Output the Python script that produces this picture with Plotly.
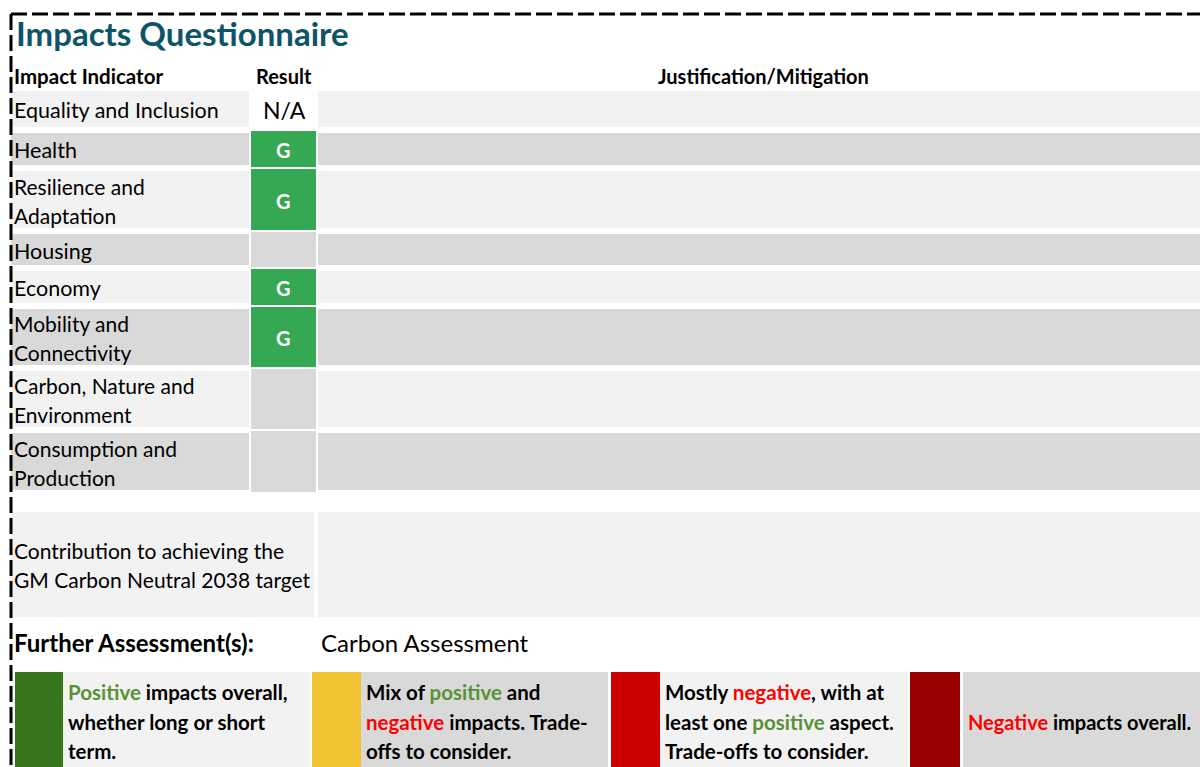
import plotly.graph_objects as go

# ---------------- data ----------------
indicators = ["Equality and Inclusion", "Health", "Resilience and\nAdaptation", "Housing",
              "Economy", "Mobility and\nConnectivity", "Carbon, Nature and\nEnvironment",
              "Consumption and\nProduction"]
results = ["N/A", "G", "G", "", "G", "G", "", ""]
contribution_label = "Contribution to achieving the\nGM Carbon Neutral 2038 target"
further_label = "Further Assessment(s):"
further_value = "Carbon Assessment"
header_labels = ["Impact Indicator", "Result", "Justification/Mitigation"]
title_text = "Impacts Questionnaire"

POS = "#5A9137"
NEG = "#FF0000"
legend_colors = ["#37761E", "#F1C232", "#CC0000", "#990000"]
legend_texts = [
    [f"<span style='color:{POS}'>Positive</span> impacts overall,", "whether long or short", "term."],
    [f"Mix of <span style='color:{POS}'>positive</span> and",
     f"<span style='color:{NEG}'>negative</span> impacts. Trade-", "offs to consider."],
    [f"Mostly <span style='color:{NEG}'>negative</span>, with at",
     f"least one <span style='color:{POS}'>positive</span> aspect.", "Trade-offs to consider."],
    [f"<span style='color:{NEG}'>Negative</span> impacts overall."],
]

# ---------------- layout constants ----------------
W, H = 1200, 767
FONT = "Lato"
LIGHT, GRAY = "#F2F2F2", "#D9D9D9"
GREEN = "#34A853"
row_heights = [36, 32, 57, 31, 32, 56, 56, 57]
ROW_TOP0, GAP = 91, 6
LBL_X0, LBL_X1 = 11, 249
RES_X0, RES_X1 = 251, 316
JUS_X0, JUS_X1 = 318, 1215
LINE_H = 29
BODY = 21
TX = 12

shapes = []
ann = []


def rect(x0, y0, x1, y1, color):
    shapes.append(dict(type="rect", xref="x", yref="y", x0=x0, x1=x1, y0=y0, y1=y1,
                       fillcolor=color, line=dict(width=0), layer="below"))


def text(x, y, s, size=BODY, color="black", bold=False, anchor="left"):
    if bold:
        s = f"<b>{s}</b>"
    ann.append(dict(x=x, y=y, xref="x", yref="y", text=s, showarrow=False,
                    xanchor=anchor, yanchor="middle",
                    font=dict(family=FONT, size=size, color=color)))


# title
text(TX + 2, 33, title_text, size=33, color="#0D5468", bold=True)

# headers
text(TX, 76, header_labels[0], size=20.5, bold=True)
text((RES_X0 + RES_X1) / 2, 76, header_labels[1], size=20, bold=True, anchor="center")
text(763, 76, header_labels[2], size=20, bold=True, anchor="center")

# rows
y = ROW_TOP0
for i, (lab, res, h) in enumerate(zip(indicators, results, row_heights)):
    col = LIGHT if i % 2 == 0 else GRAY
    y0, y1 = y, y + h
    rect(LBL_X0, y0, LBL_X1, y1, col)
    rect(JUS_X0, y0, JUS_X1, y1, col)
    if res == "G":
        rect(RES_X0, y0 - 2, RES_X1, y1 + 2, GREEN)
        text((RES_X0 + RES_X1) / 2, (y0 + y1) / 2 + 1, "G", size=20, color="white",
             bold=True, anchor="center")
    elif res == "":
        rect(RES_X0, y0 - 2, RES_X1, y1 + 2, GRAY)
    else:
        text((RES_X0 + RES_X1) / 2 + 0.5, (y0 + y1) / 2 + 1, res, size=23, anchor="center")
    lines = lab.split("\n")
    cy = (y0 + y1) / 2
    for k, ln in enumerate(lines):
        text(TX, cy + (k - (len(lines) - 1) / 2) * LINE_H + 1, ln,
             size=21.5 if len(lines) == 1 else BODY)
    y = y1 + GAP

# contribution row
rect(LBL_X0, 512, 314, 617, LIGHT)
rect(JUS_X0, 512, JUS_X1, 617, LIGHT)
for k, ln in enumerate(contribution_label.split("\n")):
    text(TX, 550 + k * LINE_H, ln)

# further assessment
text(TX, 642, further_label, size=24, bold=True)
text(319, 642, further_value, size=24)

# legend
blocks = [(15, 63, 310), (312, 361, 608), (611, 660, 908), (910, 960, 1215)]
cell_cols = [LIGHT, GRAY, LIGHT, GRAY]
for (bx0, bx1, tx1), c, cc, lines in zip(blocks, legend_colors, cell_cols, legend_texts):
    rect(bx0, 672, bx1, H + 20, c)
    tx0 = bx1 if c != legend_colors[3] else bx1 + 3
    rect(tx0, 672, tx1, H + 20, cc)
    if len(lines) == 1:
        ys = [722]
    else:
        ys = [692 + k * 29.5 for k in range(len(lines))]
    for ln, yy in zip(lines, ys):
        text(tx0 + 3, yy, ln, size=20.5 if len(lines) > 1 else 20, bold=True)

# dashed border
dash = dict(color="black", width=3, dash="16px,5px")
shapes.append(dict(type="line", xref="x", yref="y", x0=11, y0=14, x1=W + 20, y1=14, line=dash))
shapes.append(dict(type="line", xref="x", yref="y", x0=11, y0=14, x1=11, y1=H + 20, line=dash))

fig = go.Figure()
fig.add_trace(go.Scatter(x=[0, W], y=[0, H], mode="markers",
                         marker=dict(opacity=0), hoverinfo="skip", showlegend=False))
fig.update_layout(
    width=W, height=H, autosize=False,
    margin=dict(l=0, r=0, t=0, b=0),
    paper_bgcolor="white", plot_bgcolor="white",
    xaxis=dict(range=[0, W], visible=False, fixedrange=True),
    yaxis=dict(range=[H, 0], visible=False, fixedrange=True),
    shapes=shapes, annotations=ann, showlegend=False,
)
fig.write_html("out.html", config={"displayModeBar": False},
               post_script="document.body.style.margin='0';document.body.style.overflow='hidden';")
